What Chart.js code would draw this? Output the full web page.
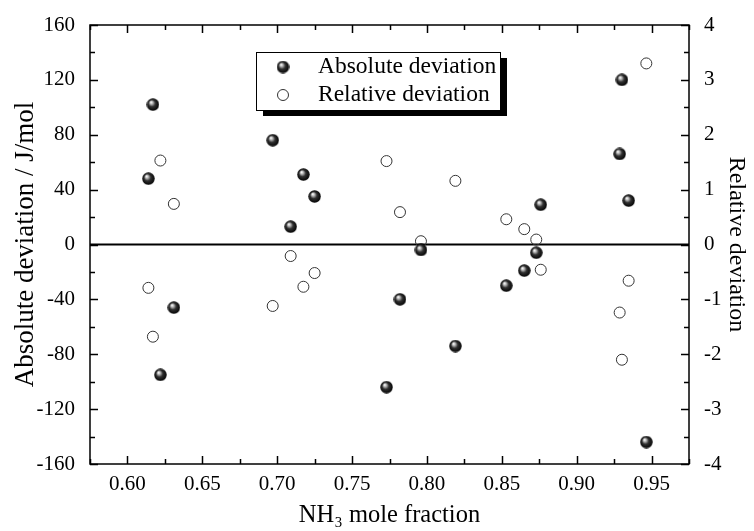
<!DOCTYPE html>
<html><head><meta charset="utf-8">
<script src="https://cdn.jsdelivr.net/npm/chart.js@4"></script>
<style>html,body{margin:0;padding:0;background:#fff}#wrap{width:754px;height:531px}</style>
</head><body><div id="wrap"><canvas id="c" width="754" height="531"></canvas></div>
<script>
// ---- data ----
const nh3Fraction = [0.614, 0.617, 0.622, 0.631, 0.697, 0.709, 0.7175, 0.725, 0.773, 0.782, 0.796, 0.819, 0.853, 0.865, 0.873, 0.876, 0.9287, 0.9302, 0.9347, 0.9465];
const absoluteDeviation = [48, 102, -95, -46, 76, 13, 51, 35, -104, -40, -4, -74, -30, -19, -6, 29, 66, 120, 32, -144];
const relativeDeviation = [-0.79, -1.68, 1.53, 0.74, -1.12, -0.21, -0.77, -0.52, 1.52, 0.59, 0.06, 1.16, 0.46, 0.28, 0.09, -0.46, -1.24, -2.1, -0.66, 3.3];
const xTickValues = [0.60, 0.65, 0.70, 0.75, 0.80, 0.85, 0.90, 0.95];
const leftTickValues = [-160, -120, -80, -40, 0, 40, 80, 120, 160];
const rightTickValues = [-4, -3, -2, -1, 0, 1, 2, 3, 4];
const seriesLabels = ['Absolute deviation', 'Relative deviation'];
const xTitle = 'NH\u2083 mole fraction';
const leftTitle = 'Absolute deviation / J/mol';
const rightTitle = 'Relative deviation';

const FONT = 'Liberation Serif';

// shaded ball sprite for the filled markers
function makeBall(d) {
  const c = document.createElement('canvas');
  c.width = d; c.height = d;
  const g = c.getContext('2d');
  const r = d / 2;
  const grad = g.createRadialGradient(r * 0.7, r * 0.62, r * 0.05, r, r, r);
  grad.addColorStop(0, '#ffffff');
  grad.addColorStop(0.22, '#b0b0b0');
  grad.addColorStop(0.5, '#303030');
  grad.addColorStop(1, '#000000');
  g.fillStyle = grad;
  g.beginPath(); g.arc(r, r, r - 0.3, 0, Math.PI * 2); g.fill();
  return c;
}
const ball = makeBall(13);

const absPoints = nh3Fraction.map((x, i) => ({ x: x, y: absoluteDeviation[i] }));
const relPoints = nh3Fraction.map((x, i) => ({ x: x, y: relativeDeviation[i] }));

function setTicks(values) {
  return function (scale) { scale.ticks = values.map(v => ({ value: v })); };
}

function minorOf(values, min, max) {
  const step = values[1] - values[0];
  const out = [];
  for (let i = -1; i < values.length; i++) {
    const v = (i < 0 ? values[0] - step / 2 : values[i] + step / 2);
    if (v >= min - 1e-9 && v <= max + 1e-9) out.push(v);
  }
  return out;
}

const framePlugin = {
  id: 'frame',
  beforeDatasetsDraw(chart) {
    const ctx = chart.ctx, a = chart.chartArea;
    const xs = chart.scales.x, ys = chart.scales.y;
    ctx.save();
    // zero line
    const y0 = ys.getPixelForValue(0);
    ctx.strokeStyle = '#000'; ctx.lineWidth = 2;
    ctx.beginPath(); ctx.moveTo(a.left, y0); ctx.lineTo(a.right, y0); ctx.stroke();
    // frame
    ctx.lineWidth = 1.5;
    ctx.strokeRect(a.left, a.top, a.right - a.left, a.bottom - a.top);
    // inward ticks
    const MAJ = 8, MIN = 5;
    ctx.lineWidth = 1.5;
    ctx.beginPath();
    xTickValues.forEach(v => {
      const px = Math.round(xs.getPixelForValue(v)) + 0.5;
      ctx.moveTo(px, a.bottom); ctx.lineTo(px, a.bottom - MAJ);
      ctx.moveTo(px, a.top); ctx.lineTo(px, a.top + MAJ);
    });
    minorOf(xTickValues, xs.min, xs.max).forEach(v => {
      const px = Math.round(xs.getPixelForValue(v)) + 0.5;
      ctx.moveTo(px, a.bottom); ctx.lineTo(px, a.bottom - MIN);
      ctx.moveTo(px, a.top); ctx.lineTo(px, a.top + MIN);
    });
    leftTickValues.forEach(v => {
      const py = Math.round(ys.getPixelForValue(v)) + 0.5;
      ctx.moveTo(a.left, py); ctx.lineTo(a.left + MAJ, py);
    });
    minorOf(leftTickValues, ys.min, ys.max).forEach(v => {
      const py = Math.round(ys.getPixelForValue(v)) + 0.5;
      ctx.moveTo(a.left, py); ctx.lineTo(a.left + MIN, py);
    });
    const y2 = chart.scales.y2;
    rightTickValues.forEach(v => {
      const py = Math.round(y2.getPixelForValue(v)) + 0.5;
      ctx.moveTo(a.right, py); ctx.lineTo(a.right - MAJ, py);
    });
    minorOf(rightTickValues, y2.min, y2.max).forEach(v => {
      const py = Math.round(y2.getPixelForValue(v)) + 0.5;
      ctx.moveTo(a.right, py); ctx.lineTo(a.right - MIN, py);
    });
    ctx.stroke();
    ctx.restore();
  },
  afterDraw(chart) {
    // boxed legend with drop shadow
    const ctx = chart.ctx, a = chart.chartArea;
    const bx = a.left + 166, by = a.top + 27, bw = 244, bh = 58;
    ctx.save();
    ctx.fillStyle = '#000';
    ctx.fillRect(bx + 7, by + 6, bw, bh);
    ctx.fillStyle = '#fff';
    ctx.fillRect(bx, by, bw, bh);
    ctx.strokeStyle = '#000'; ctx.lineWidth = 1;
    ctx.strokeRect(bx + 0.5, by + 0.5, bw, bh);
    ctx.font = '23.5px "' + FONT + '"';
    ctx.fillStyle = '#000';
    ctx.textBaseline = 'middle';
    const ds = chart.data.datasets;
    // row 1
    ctx.drawImage(ball, bx + 27 - 6.5, by + 15 - 6.5, 13, 13);
    ctx.fillText(ds[0].label, bx + 62, by + 15);
    // row 2
    ctx.beginPath(); ctx.arc(bx + 27, by + 43, 5.5, 0, Math.PI * 2);
    ctx.strokeStyle = '#333'; ctx.lineWidth = 1; ctx.stroke();
    ctx.fillText(ds[1].label, bx + 62, by + 43);
    ctx.restore();
  }
};

const tickFont = { family: FONT, size: 21 };

new Chart(document.getElementById('c'), {
  type: 'scatter',
  data: {
    datasets: [
      { label: seriesLabels[0], data: absPoints, yAxisID: 'y', pointStyle: ball, pointRadius: 6.5, pointHoverRadius: 6.5 },
      { label: seriesLabels[1], data: relPoints, yAxisID: 'y2', pointStyle: 'circle', pointRadius: 5.5, pointHoverRadius: 5.5,
        borderColor: '#333', borderWidth: 1, backgroundColor: 'rgba(255,255,255,0)' }
    ]
  },
  options: {
    responsive: false,
    animation: false,
    devicePixelRatio: 1,
    layout: { padding: { top: 25, left: 0, right: 0, bottom: 0 } },
    plugins: { legend: { display: false }, tooltip: { enabled: false } },
    scales: {
      x: {
        type: 'linear', position: 'bottom', min: 0.575, max: 0.975,
        afterBuildTicks: setTicks(xTickValues),
        afterFit(s) { s.height = 67; },
        grid: { display: false }, border: { display: false },
        ticks: { font: tickFont, color: '#000', padding: 0, maxRotation: 0, autoSkip: false, callback: v => Number(v).toFixed(2) },
        title: { display: true, text: xTitle, font: { family: FONT, size: 24.5 }, color: '#000', padding: { top: 0, bottom: 1 } }
      },
      y: {
        type: 'linear', position: 'left', min: -160, max: 160,
        afterBuildTicks: setTicks(leftTickValues),
        afterFit(s) { s.width = 90; },
        grid: { display: false }, border: { display: false },
        ticks: { font: tickFont, color: '#000', padding: 7, autoSkip: false },
        title: { display: true, text: leftTitle, font: { family: FONT, size: 27 }, color: '#000', padding: { top: 10, bottom: 0 } }
      },
      y2: {
        type: 'linear', position: 'right', min: -4, max: 4,
        afterBuildTicks: setTicks(rightTickValues),
        afterFit(s) { s.width = 65; },
        grid: { display: false }, border: { display: false },
        ticks: { font: tickFont, color: '#000', padding: 7, autoSkip: false },
        title: { display: true, text: rightTitle, font: { family: FONT, size: 24 }, color: '#000', padding: { top: 3.5, bottom: 0 } }
      }
    }
  },
  plugins: [framePlugin]
});
</script>
</body></html>
